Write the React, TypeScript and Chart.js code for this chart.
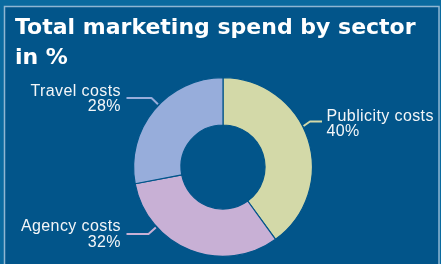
import { useEffect, useRef } from "react";
import { Chart, registerables } from "chart.js";

Chart.register(...registerables);

// ---- data ----
const categories = ["Publicity costs", "Agency costs", "Travel costs"];
const shares = [40, 32, 28];
const titleLines = ["Total marketing spend by sector", "in %"];

// ---- style ----
const sliceColors = ["#d3d9a8", "#c8b0d5", "#97addb"];
const panelColor = "#02558a";
const outerColor = "#0a6a9f";
const frameColor = "#8fb6d2";

// label placement (style only): text anchor, leader line geometry
const labelLayout = [
  { align: "left", x: 326.5, y: 120.5, lineY: 121.5, startX: 322, elbowX: 310, edgeDeg: 63 },
  { align: "right", x: 120.5, y: 231, lineY: 234, startX: 126.5, elbowX: 148.5, edgeDeg: 228 },
  { align: "right", x: 120.5, y: 95.5, lineY: 98, startX: 126.5, elbowX: 151.5, edgeDeg: 314 },
];

const decorPlugin = {
  id: "decor",
  beforeDraw(chart: any) {
    const ctx = chart.ctx as CanvasRenderingContext2D;
    const w = chart.width;
    const h = chart.height;
    ctx.save();
    ctx.fillStyle = outerColor;
    ctx.fillRect(0, 0, w, h);
    ctx.fillStyle = panelColor;
    ctx.fillRect(5, 7, w - 7, h);
    ctx.strokeStyle = frameColor;
    ctx.lineWidth = 1.5;
    ctx.strokeRect(4.5, 6.5, w - 6.5, h + 10);
    ctx.restore();
  },
  afterDraw(chart: any) {
    const ctx = chart.ctx as CanvasRenderingContext2D;
    ctx.save();
    // title
    ctx.fillStyle = "#ffffff";
    ctx.font = "bold 22px 'DejaVu Sans'";
    ctx.textAlign = "left";
    ctx.textBaseline = "alphabetic";
    titleLines.forEach((line, i) => {
      ctx.fillText(line, 15, 34 + i * 30);
    });

    const meta = chart.getDatasetMeta(0);
    const arc0 = meta.data[0] as any;
    const cx = arc0.x;
    const cy = arc0.y;
    const R = arc0.outerRadius;

    // leader lines + labels
    categories.forEach((cat, i) => {
      const L = labelLayout[i];
      const a = (L.edgeDeg * Math.PI) / 180;
      const ex = cx + (R + 1) * Math.sin(a);
      const ey = cy - (R + 1) * Math.cos(a);
      ctx.strokeStyle = sliceColors[i];
      ctx.lineWidth = 2;
      ctx.lineJoin = "round";
      ctx.beginPath();
      ctx.moveTo(L.startX, L.lineY);
      ctx.lineTo(L.elbowX, L.lineY);
      ctx.lineTo(ex, ey);
      ctx.stroke();

      ctx.fillStyle = "#f4f6f8";
      ctx.font = "16px 'Liberation Sans', Arial, sans-serif";
      (ctx as any).letterSpacing = "0.4px";
      ctx.textAlign = L.align as CanvasTextAlign;
      const tx = L.align === "right" ? L.x + 0.4 : L.x;
      ctx.fillText(cat, tx, L.y);
      ctx.fillText(shares[i] + "%", tx, L.y + 15.5);
    });
    ctx.restore();
  },
};

export default function App() {
  const ref = useRef<HTMLCanvasElement | null>(null);
  useEffect(() => {
    if (!ref.current) return;
    const chart = new Chart(ref.current, {
      type: "doughnut",
      data: {
        labels: categories,
        datasets: [
          {
            data: shares,
            backgroundColor: sliceColors,
            borderColor: panelColor,
            borderWidth: 1.2,
          },
        ],
      },
      options: {
        responsive: false,
        animation: false,
        cutout: "47%",
        layout: { padding: { top: 77, bottom: 7, left: 133, right: 128 } },
        plugins: {
          legend: { display: false },
          tooltip: { enabled: false },
          title: { display: false },
        },
      },
      plugins: [decorPlugin],
    });
    return () => chart.destroy();
  }, []);
  return (
    <div style={{ position: "fixed", left: 0, top: 0, width: 441, height: 264 }}>
      <canvas ref={ref} width={441} height={264} />
    </div>
  );
}
